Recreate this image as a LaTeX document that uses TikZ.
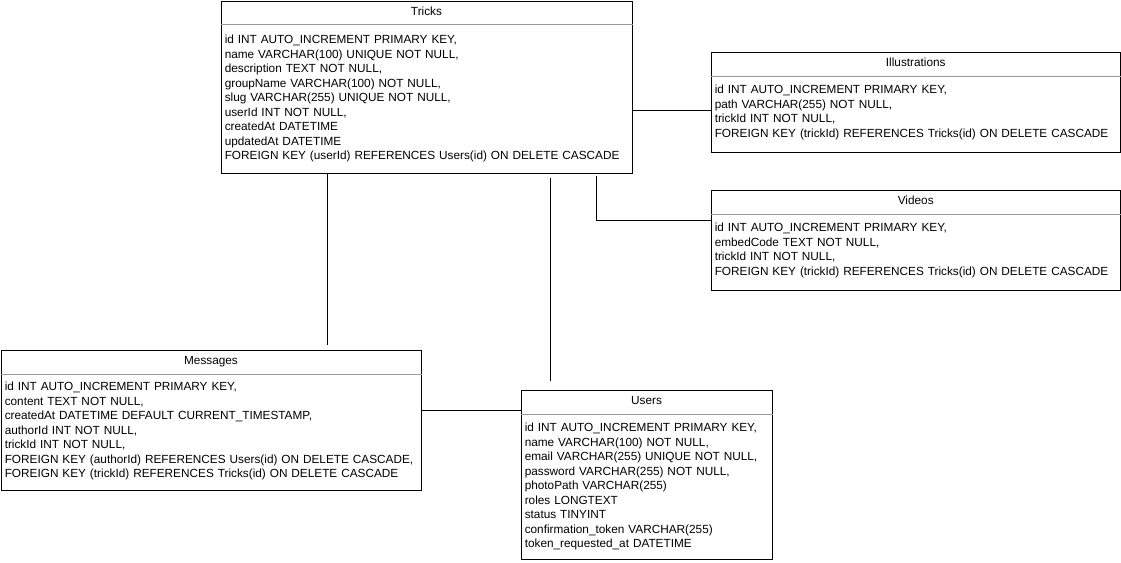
\documentclass[tikz,border=0pt]{standalone}
\usepackage{fontspec}
\setmainfont{Liberation Sans}
\usetikzlibrary{calc}
\begin{document}
\begin{tikzpicture}[x=0.75pt,y=-0.75pt]
		  \tikzstyle{every node}=[font=\fontsize{8.85pt}{10.9pt}\selectfont]
		  \tikzstyle{tablebox}=[draw,line width=0.75pt,anchor=north west,inner sep=0pt]
		  \tikzstyle{tabletitle}=[anchor=base,inner sep=0pt]
		  \tikzstyle{tablerows}=[anchor=base west,inner sep=0pt,text width=480pt,align=left]
		  \tikzstyle{headline}=[line width=0.75pt,black!40]
		  \tikzstyle{link}=[line width=0.75pt]
		  \useasboundingbox (0,0) rectangle (1121,562);
		  \node[tablebox,minimum width=411*0.75pt,minimum height=172*0.75pt](tricks) at (220.5,0.5){};
		  \node[tabletitle](tricks-title) at ($(tricks.north)+(0,14.5)$){Tricks};
		  \draw[headline]($(tricks.north west)+(0,24)$)--($(tricks.north east)+(0,24)$);
		  \node[tablerows](tricks-rows) at ($(tricks.north west)+(4,43)$){id INT AUTO\_INCREMENT PRIMARY KEY,\\name VARCHAR(100) UNIQUE NOT NULL,\\description TEXT NOT NULL,\\groupName VARCHAR(100) NOT NULL,\\slug VARCHAR(255) UNIQUE NOT NULL,\\userId INT NOT NULL,\\createdAt DATETIME\\updatedAt DATETIME\\FOREIGN KEY (userId) REFERENCES Users(id) ON DELETE CASCADE};
		  \node[tablebox,minimum width=409.5*0.75pt,minimum height=100*0.75pt](ill) at (710.5,52){};
		  \node[tabletitle](ill-title) at ($(ill.north)+(0,14.5)$){Illustrations};
		  \draw[headline]($(ill.north west)+(0,24)$)--($(ill.north east)+(0,24)$);
		  \node[tablerows](ill-rows) at ($(ill.north west)+(4,41.5)$){id INT AUTO\_INCREMENT PRIMARY KEY,\\path VARCHAR(255) NOT NULL,\\trickId INT NOT NULL,\\FOREIGN KEY (trickId) REFERENCES Tricks(id) ON DELETE CASCADE};
		  \node[tablebox,minimum width=409.5*0.75pt,minimum height=100*0.75pt](vid) at (710.5,190){};
		  \node[tabletitle](vid-title) at ($(vid.north)+(0,14.5)$){Videos};
		  \draw[headline]($(vid.north west)+(0,24)$)--($(vid.north east)+(0,24)$);
		  \node[tablerows](vid-rows) at ($(vid.north west)+(4,41.5)$){id INT AUTO\_INCREMENT PRIMARY KEY,\\embedCode TEXT NOT NULL,\\trickId INT NOT NULL,\\FOREIGN KEY (trickId) REFERENCES Tricks(id) ON DELETE CASCADE};
		  \node[tablebox,minimum width=420*0.75pt,minimum height=140*0.75pt](msg) at (0.5,350){};
		  \node[tabletitle](msg-title) at ($(msg.north)+(0,14.5)$){Messages};
		  \draw[headline]($(msg.north west)+(0,24)$)--($(msg.north east)+(0,24)$);
		  \node[tablerows](msg-rows) at ($(msg.north west)+(4,40.5)$){id INT AUTO\_INCREMENT PRIMARY KEY,\\content TEXT NOT NULL,\\createdAt DATETIME DEFAULT CURRENT\_TIMESTAMP,\\authorId INT NOT NULL,\\trickId INT NOT NULL,\\FOREIGN KEY (authorId) REFERENCES Users(id) ON DELETE CASCADE,\\FOREIGN KEY (trickId) REFERENCES Tricks(id) ON DELETE CASCADE};
		  \node[tablebox,minimum width=251*0.75pt,minimum height=169*0.75pt](usr) at (520.5,390){};
		  \node[tabletitle](usr-title) at ($(usr.north)+(0,14.5)$){Users};
		  \draw[headline]($(usr.north west)+(0,24)$)--($(usr.north east)+(0,24)$);
		  \node[tablerows](usr-rows) at ($(usr.north west)+(4,41.5)$){id INT AUTO\_INCREMENT PRIMARY KEY,\\name VARCHAR(100) NOT NULL,\\email VARCHAR(255) UNIQUE NOT NULL,\\password VARCHAR(255) NOT NULL,\\photoPath VARCHAR(255)\\roles LONGTEXT\\status TINYINT\\confirmation\_token VARCHAR(255)\\token\_requested\_at DATETIME};
		  \coordinate(ill-link) at ($(ill.west)+(0,8)$);
		  \coordinate(vid-link) at ($(vid.west)+(0,-20)$);
		  \coordinate(vid-top) at ($(tricks.south west)+(376,2)$);
		  \coordinate(msg-top) at ($(tricks.south west)+(107,0)$);
		  \coordinate(msg-end) at ($(msg.north)+(0,-5)$);
		  \coordinate(usr-top) at ($(tricks.south west)+(330,4)$);
		  \coordinate(usr-end) at ($(usr.north)+(0,-9)$);
		  \coordinate(mu-link) at ($(msg.east)+(0,-10)$);
		  \draw[link](tricks.east |- ill-link)--(ill-link);
		  \draw[link](vid-top)|-(vid-link);
		  \draw[link](msg-top)--(msg-top |- msg-end);
		  \draw[link](usr-top)--(usr-top |- usr-end);
		  \draw[link](mu-link)--(usr.west |- mu-link);
		\end{tikzpicture}
\end{document}
